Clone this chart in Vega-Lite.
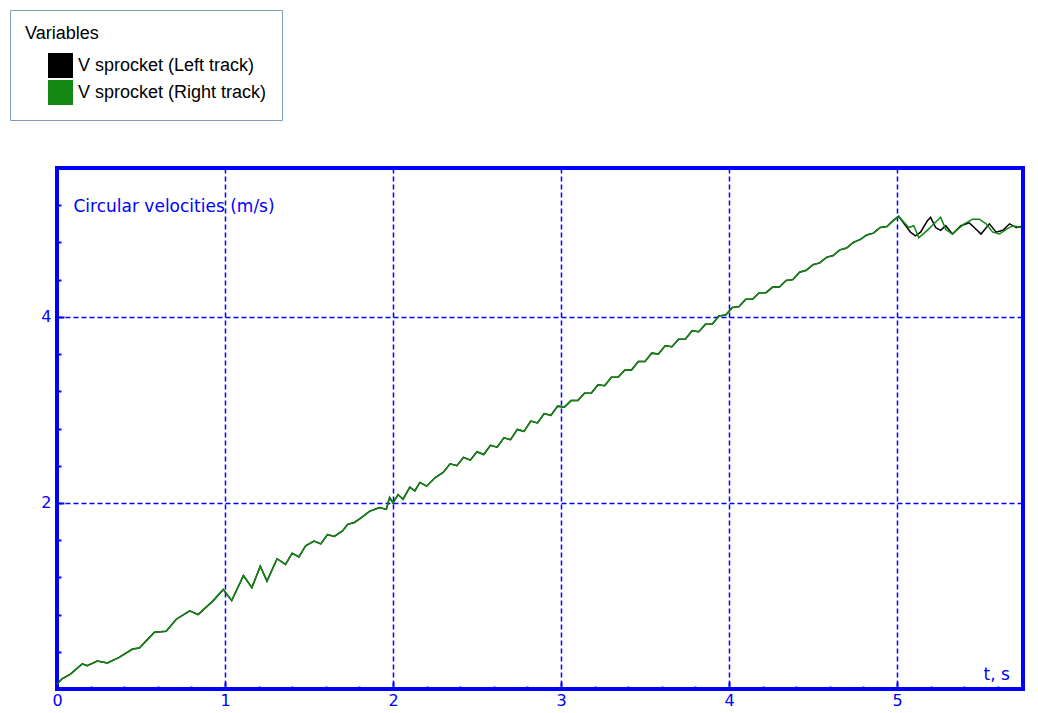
{
 "$schema": "https://vega.github.io/schema/vega-lite/v6.json",
 "width": 966,
 "height": 521,
 "autosize": {"type": "none"},
 "padding": {"left": 57, "top": 168, "right": 15, "bottom": 24},
 "background": "#FFFFFF",
 "config": {"view": {"stroke": "#0000FF", "strokeWidth": 4}, "font": "DejaVu Sans"},
 "data": {"values": [
  {"s":"V sprocket (Left track)","t":0,"v":0.05},{"s":"V sprocket (Left track)","t":0.03,"v":0.11},{"s":"V sprocket (Left track)","t":0.08,"v":0.16},{"s":"V sprocket (Left track)","t":0.15,"v":0.27},{"s":"V sprocket (Left track)","t":0.18,"v":0.25},{"s":"V sprocket (Left track)","t":0.24,"v":0.30},{"s":"V sprocket (Left track)","t":0.30,"v":0.28},{"s":"V sprocket (Left track)","t":0.37,"v":0.34},{"s":"V sprocket (Left track)","t":0.45,"v":0.43},{"s":"V sprocket (Left track)","t":0.49,"v":0.44},{"s":"V sprocket (Left track)","t":0.58,"v":0.61},{"s":"V sprocket (Left track)","t":0.65,"v":0.62},{"s":"V sprocket (Left track)","t":0.71,"v":0.75},{"s":"V sprocket (Left track)","t":0.79,"v":0.84},{"s":"V sprocket (Left track)","t":0.84,"v":0.80},{"s":"V sprocket (Left track)","t":0.93,"v":0.95},{"s":"V sprocket (Left track)","t":0.99,"v":1.07},{"s":"V sprocket (Left track)","t":1.04,"v":0.95},{"s":"V sprocket (Left track)","t":1.11,"v":1.22},{"s":"V sprocket (Left track)","t":1.16,"v":1.09},{"s":"V sprocket (Left track)","t":1.21,"v":1.32},{"s":"V sprocket (Left track)","t":1.25,"v":1.16},{"s":"V sprocket (Left track)","t":1.31,"v":1.40},{"s":"V sprocket (Left track)","t":1.36,"v":1.34},{"s":"V sprocket (Left track)","t":1.40,"v":1.46},{"s":"V sprocket (Left track)","t":1.44,"v":1.42},{"s":"V sprocket (Left track)","t":1.48,"v":1.54},{"s":"V sprocket (Left track)","t":1.53,"v":1.59},{"s":"V sprocket (Left track)","t":1.57,"v":1.56},{"s":"V sprocket (Left track)","t":1.61,"v":1.66},{"s":"V sprocket (Left track)","t":1.65,"v":1.64},{"s":"V sprocket (Left track)","t":1.70,"v":1.70},{"s":"V sprocket (Left track)","t":1.73,"v":1.77},{"s":"V sprocket (Left track)","t":1.77,"v":1.79},{"s":"V sprocket (Left track)","t":1.81,"v":1.84},{"s":"V sprocket (Left track)","t":1.86,"v":1.91},{"s":"V sprocket (Left track)","t":1.92,"v":1.95},{"s":"V sprocket (Left track)","t":1.96,"v":1.93},{"s":"V sprocket (Left track)","t":1.98,"v":2.06},{"s":"V sprocket (Left track)","t":2.00,"v":2.00},{"s":"V sprocket (Left track)","t":2.03,"v":2.09},{"s":"V sprocket (Left track)","t":2.06,"v":2.04},{"s":"V sprocket (Left track)","t":2.10,"v":2.17},{"s":"V sprocket (Left track)","t":2.13,"v":2.13},{"s":"V sprocket (Left track)","t":2.16,"v":2.22},{"s":"V sprocket (Left track)","t":2.20,"v":2.18},{"s":"V sprocket (Left track)","t":2.25,"v":2.27},{"s":"V sprocket (Left track)","t":2.30,"v":2.33},{"s":"V sprocket (Left track)","t":2.34,"v":2.42},{"s":"V sprocket (Left track)","t":2.38,"v":2.40},{"s":"V sprocket (Left track)","t":2.42,"v":2.49},{"s":"V sprocket (Left track)","t":2.46,"v":2.46},{"s":"V sprocket (Left track)","t":2.50,"v":2.55},{"s":"V sprocket (Left track)","t":2.54,"v":2.52},{"s":"V sprocket (Left track)","t":2.58,"v":2.62},{"s":"V sprocket (Left track)","t":2.62,"v":2.60},{"s":"V sprocket (Left track)","t":2.66,"v":2.70},{"s":"V sprocket (Left track)","t":2.70,"v":2.68},{"s":"V sprocket (Left track)","t":2.74,"v":2.79},{"s":"V sprocket (Left track)","t":2.78,"v":2.77},{"s":"V sprocket (Left track)","t":2.82,"v":2.88},{"s":"V sprocket (Left track)","t":2.86,"v":2.86},{"s":"V sprocket (Left track)","t":2.90,"v":2.96},{"s":"V sprocket (Left track)","t":2.94,"v":2.94},{"s":"V sprocket (Left track)","t":2.98,"v":3.04},{"s":"V sprocket (Left track)","t":3.02,"v":3.03},{"s":"V sprocket (Left track)","t":3.06,"v":3.10},{"s":"V sprocket (Left track)","t":3.10,"v":3.10},{"s":"V sprocket (Left track)","t":3.14,"v":3.18},{"s":"V sprocket (Left track)","t":3.18,"v":3.18},{"s":"V sprocket (Left track)","t":3.22,"v":3.27},{"s":"V sprocket (Left track)","t":3.26,"v":3.26},{"s":"V sprocket (Left track)","t":3.30,"v":3.35},{"s":"V sprocket (Left track)","t":3.34,"v":3.35},{"s":"V sprocket (Left track)","t":3.38,"v":3.43},{"s":"V sprocket (Left track)","t":3.42,"v":3.43},{"s":"V sprocket (Left track)","t":3.46,"v":3.52},{"s":"V sprocket (Left track)","t":3.50,"v":3.52},{"s":"V sprocket (Left track)","t":3.54,"v":3.61},{"s":"V sprocket (Left track)","t":3.58,"v":3.60},{"s":"V sprocket (Left track)","t":3.62,"v":3.69},{"s":"V sprocket (Left track)","t":3.66,"v":3.68},{"s":"V sprocket (Left track)","t":3.70,"v":3.76},{"s":"V sprocket (Left track)","t":3.74,"v":3.76},{"s":"V sprocket (Left track)","t":3.78,"v":3.85},{"s":"V sprocket (Left track)","t":3.82,"v":3.84},{"s":"V sprocket (Left track)","t":3.86,"v":3.92},{"s":"V sprocket (Left track)","t":3.90,"v":3.92},{"s":"V sprocket (Left track)","t":3.94,"v":4.01},{"s":"V sprocket (Left track)","t":3.98,"v":4.02},{"s":"V sprocket (Left track)","t":4.02,"v":4.10},{"s":"V sprocket (Left track)","t":4.06,"v":4.11},{"s":"V sprocket (Left track)","t":4.10,"v":4.19},{"s":"V sprocket (Left track)","t":4.14,"v":4.19},{"s":"V sprocket (Left track)","t":4.18,"v":4.26},{"s":"V sprocket (Left track)","t":4.22,"v":4.26},{"s":"V sprocket (Left track)","t":4.26,"v":4.32},{"s":"V sprocket (Left track)","t":4.30,"v":4.32},{"s":"V sprocket (Left track)","t":4.34,"v":4.39},{"s":"V sprocket (Left track)","t":4.38,"v":4.40},{"s":"V sprocket (Left track)","t":4.42,"v":4.48},{"s":"V sprocket (Left track)","t":4.46,"v":4.50},{"s":"V sprocket (Left track)","t":4.50,"v":4.56},{"s":"V sprocket (Left track)","t":4.54,"v":4.58},{"s":"V sprocket (Left track)","t":4.58,"v":4.64},{"s":"V sprocket (Left track)","t":4.62,"v":4.66},{"s":"V sprocket (Left track)","t":4.66,"v":4.72},{"s":"V sprocket (Left track)","t":4.70,"v":4.74},{"s":"V sprocket (Left track)","t":4.74,"v":4.80},{"s":"V sprocket (Left track)","t":4.78,"v":4.83},{"s":"V sprocket (Left track)","t":4.82,"v":4.88},{"s":"V sprocket (Left track)","t":4.86,"v":4.90},{"s":"V sprocket (Left track)","t":4.90,"v":4.96},{"s":"V sprocket (Left track)","t":4.94,"v":4.97},{"s":"V sprocket (Left track)","t":4.98,"v":5.04},{"s":"V sprocket (Left track)","t":5.01,"v":5.08},
  {"s":"V sprocket (Left track)","t":5.08,"v":4.91},{"s":"V sprocket (Left track)","t":5.11,"v":4.87},{"s":"V sprocket (Left track)","t":5.14,"v":4.91},{"s":"V sprocket (Left track)","t":5.18,"v":5.03},{"s":"V sprocket (Left track)","t":5.20,"v":5.07},{"s":"V sprocket (Left track)","t":5.23,"v":4.96},{"s":"V sprocket (Left track)","t":5.26,"v":4.93},{"s":"V sprocket (Left track)","t":5.29,"v":4.98},{"s":"V sprocket (Left track)","t":5.33,"v":4.89},{"s":"V sprocket (Left track)","t":5.38,"v":4.98},{"s":"V sprocket (Left track)","t":5.43,"v":5.01},{"s":"V sprocket (Left track)","t":5.46,"v":4.96},{"s":"V sprocket (Left track)","t":5.50,"v":4.89},{"s":"V sprocket (Left track)","t":5.55,"v":5.00},{"s":"V sprocket (Left track)","t":5.59,"v":4.91},{"s":"V sprocket (Left track)","t":5.63,"v":4.93},{"s":"V sprocket (Left track)","t":5.67,"v":5.00},{"s":"V sprocket (Left track)","t":5.71,"v":4.96},{"s":"V sprocket (Left track)","t":5.74,"v":4.97},
  {"s":"V sprocket (Right track)","t":0,"v":0.05},{"s":"V sprocket (Right track)","t":0.03,"v":0.11},{"s":"V sprocket (Right track)","t":0.08,"v":0.16},{"s":"V sprocket (Right track)","t":0.15,"v":0.27},{"s":"V sprocket (Right track)","t":0.18,"v":0.25},{"s":"V sprocket (Right track)","t":0.24,"v":0.30},{"s":"V sprocket (Right track)","t":0.30,"v":0.28},{"s":"V sprocket (Right track)","t":0.37,"v":0.34},{"s":"V sprocket (Right track)","t":0.45,"v":0.43},{"s":"V sprocket (Right track)","t":0.49,"v":0.44},{"s":"V sprocket (Right track)","t":0.58,"v":0.61},{"s":"V sprocket (Right track)","t":0.65,"v":0.62},{"s":"V sprocket (Right track)","t":0.71,"v":0.75},{"s":"V sprocket (Right track)","t":0.79,"v":0.84},{"s":"V sprocket (Right track)","t":0.84,"v":0.80},{"s":"V sprocket (Right track)","t":0.93,"v":0.95},{"s":"V sprocket (Right track)","t":0.99,"v":1.07},{"s":"V sprocket (Right track)","t":1.04,"v":0.95},{"s":"V sprocket (Right track)","t":1.11,"v":1.22},{"s":"V sprocket (Right track)","t":1.16,"v":1.09},{"s":"V sprocket (Right track)","t":1.21,"v":1.32},{"s":"V sprocket (Right track)","t":1.25,"v":1.16},{"s":"V sprocket (Right track)","t":1.31,"v":1.40},{"s":"V sprocket (Right track)","t":1.36,"v":1.34},{"s":"V sprocket (Right track)","t":1.40,"v":1.46},{"s":"V sprocket (Right track)","t":1.44,"v":1.42},{"s":"V sprocket (Right track)","t":1.48,"v":1.54},{"s":"V sprocket (Right track)","t":1.53,"v":1.59},{"s":"V sprocket (Right track)","t":1.57,"v":1.56},{"s":"V sprocket (Right track)","t":1.61,"v":1.66},{"s":"V sprocket (Right track)","t":1.65,"v":1.64},{"s":"V sprocket (Right track)","t":1.70,"v":1.70},{"s":"V sprocket (Right track)","t":1.73,"v":1.77},{"s":"V sprocket (Right track)","t":1.77,"v":1.79},{"s":"V sprocket (Right track)","t":1.81,"v":1.84},{"s":"V sprocket (Right track)","t":1.86,"v":1.91},{"s":"V sprocket (Right track)","t":1.92,"v":1.95},{"s":"V sprocket (Right track)","t":1.96,"v":1.93},{"s":"V sprocket (Right track)","t":1.98,"v":2.06},{"s":"V sprocket (Right track)","t":2.00,"v":2.00},{"s":"V sprocket (Right track)","t":2.03,"v":2.09},{"s":"V sprocket (Right track)","t":2.06,"v":2.04},{"s":"V sprocket (Right track)","t":2.10,"v":2.17},{"s":"V sprocket (Right track)","t":2.13,"v":2.13},{"s":"V sprocket (Right track)","t":2.16,"v":2.22},{"s":"V sprocket (Right track)","t":2.20,"v":2.18},{"s":"V sprocket (Right track)","t":2.25,"v":2.27},{"s":"V sprocket (Right track)","t":2.30,"v":2.33},{"s":"V sprocket (Right track)","t":2.34,"v":2.42},{"s":"V sprocket (Right track)","t":2.38,"v":2.40},{"s":"V sprocket (Right track)","t":2.42,"v":2.49},{"s":"V sprocket (Right track)","t":2.46,"v":2.46},{"s":"V sprocket (Right track)","t":2.50,"v":2.55},{"s":"V sprocket (Right track)","t":2.54,"v":2.52},{"s":"V sprocket (Right track)","t":2.58,"v":2.62},{"s":"V sprocket (Right track)","t":2.62,"v":2.60},{"s":"V sprocket (Right track)","t":2.66,"v":2.70},{"s":"V sprocket (Right track)","t":2.70,"v":2.68},{"s":"V sprocket (Right track)","t":2.74,"v":2.79},{"s":"V sprocket (Right track)","t":2.78,"v":2.77},{"s":"V sprocket (Right track)","t":2.82,"v":2.88},{"s":"V sprocket (Right track)","t":2.86,"v":2.86},{"s":"V sprocket (Right track)","t":2.90,"v":2.96},{"s":"V sprocket (Right track)","t":2.94,"v":2.94},{"s":"V sprocket (Right track)","t":2.98,"v":3.04},{"s":"V sprocket (Right track)","t":3.02,"v":3.03},{"s":"V sprocket (Right track)","t":3.06,"v":3.10},{"s":"V sprocket (Right track)","t":3.10,"v":3.10},{"s":"V sprocket (Right track)","t":3.14,"v":3.18},{"s":"V sprocket (Right track)","t":3.18,"v":3.18},{"s":"V sprocket (Right track)","t":3.22,"v":3.27},{"s":"V sprocket (Right track)","t":3.26,"v":3.26},{"s":"V sprocket (Right track)","t":3.30,"v":3.35},{"s":"V sprocket (Right track)","t":3.34,"v":3.35},{"s":"V sprocket (Right track)","t":3.38,"v":3.43},{"s":"V sprocket (Right track)","t":3.42,"v":3.43},{"s":"V sprocket (Right track)","t":3.46,"v":3.52},{"s":"V sprocket (Right track)","t":3.50,"v":3.52},{"s":"V sprocket (Right track)","t":3.54,"v":3.61},{"s":"V sprocket (Right track)","t":3.58,"v":3.60},{"s":"V sprocket (Right track)","t":3.62,"v":3.69},{"s":"V sprocket (Right track)","t":3.66,"v":3.68},{"s":"V sprocket (Right track)","t":3.70,"v":3.76},{"s":"V sprocket (Right track)","t":3.74,"v":3.76},{"s":"V sprocket (Right track)","t":3.78,"v":3.85},{"s":"V sprocket (Right track)","t":3.82,"v":3.84},{"s":"V sprocket (Right track)","t":3.86,"v":3.92},{"s":"V sprocket (Right track)","t":3.90,"v":3.92},{"s":"V sprocket (Right track)","t":3.94,"v":4.01},{"s":"V sprocket (Right track)","t":3.98,"v":4.02},{"s":"V sprocket (Right track)","t":4.02,"v":4.10},{"s":"V sprocket (Right track)","t":4.06,"v":4.11},{"s":"V sprocket (Right track)","t":4.10,"v":4.19},{"s":"V sprocket (Right track)","t":4.14,"v":4.19},{"s":"V sprocket (Right track)","t":4.18,"v":4.26},{"s":"V sprocket (Right track)","t":4.22,"v":4.26},{"s":"V sprocket (Right track)","t":4.26,"v":4.32},{"s":"V sprocket (Right track)","t":4.30,"v":4.32},{"s":"V sprocket (Right track)","t":4.34,"v":4.39},{"s":"V sprocket (Right track)","t":4.38,"v":4.40},{"s":"V sprocket (Right track)","t":4.42,"v":4.48},{"s":"V sprocket (Right track)","t":4.46,"v":4.50},{"s":"V sprocket (Right track)","t":4.50,"v":4.56},{"s":"V sprocket (Right track)","t":4.54,"v":4.58},{"s":"V sprocket (Right track)","t":4.58,"v":4.64},{"s":"V sprocket (Right track)","t":4.62,"v":4.66},{"s":"V sprocket (Right track)","t":4.66,"v":4.72},{"s":"V sprocket (Right track)","t":4.70,"v":4.74},{"s":"V sprocket (Right track)","t":4.74,"v":4.80},{"s":"V sprocket (Right track)","t":4.78,"v":4.83},{"s":"V sprocket (Right track)","t":4.82,"v":4.88},{"s":"V sprocket (Right track)","t":4.86,"v":4.90},{"s":"V sprocket (Right track)","t":4.90,"v":4.96},{"s":"V sprocket (Right track)","t":4.94,"v":4.97},{"s":"V sprocket (Right track)","t":4.98,"v":5.04},{"s":"V sprocket (Right track)","t":5.01,"v":5.08},
  {"s":"V sprocket (Right track)","t":5.07,"v":4.96},{"s":"V sprocket (Right track)","t":5.10,"v":4.98},{"s":"V sprocket (Right track)","t":5.13,"v":4.85},{"s":"V sprocket (Right track)","t":5.18,"v":4.93},{"s":"V sprocket (Right track)","t":5.22,"v":5.00},{"s":"V sprocket (Right track)","t":5.26,"v":5.07},{"s":"V sprocket (Right track)","t":5.29,"v":4.94},{"s":"V sprocket (Right track)","t":5.33,"v":4.89},{"s":"V sprocket (Right track)","t":5.36,"v":4.94},{"s":"V sprocket (Right track)","t":5.40,"v":5.00},{"s":"V sprocket (Right track)","t":5.45,"v":5.05},{"s":"V sprocket (Right track)","t":5.49,"v":5.05},{"s":"V sprocket (Right track)","t":5.53,"v":5.00},{"s":"V sprocket (Right track)","t":5.57,"v":4.91},{"s":"V sprocket (Right track)","t":5.61,"v":4.89},{"s":"V sprocket (Right track)","t":5.65,"v":4.94},{"s":"V sprocket (Right track)","t":5.69,"v":4.98},{"s":"V sprocket (Right track)","t":5.74,"v":4.96}
 ]},
 "mark": {"type": "line", "strokeWidth": 1.5},
 "encoding": {
  "x": {
   "field": "t", "type": "quantitative",
   "scale": {"domain": [0, 5.75], "nice": false, "zero": false},
   "axis": {
    "title": "t, s", "titleX": 926, "titleY": -15, "titleAlign": "left", "titleBaseline": "middle",
    "titleFont": "DejaVu Sans", "titleFontSize": 17, "titleFontWeight": "normal", "titleColor": "#0000FF",
    "values": [0,0.2,0.4,0.6,0.8,1,1.2,1.4,1.6,1.8,2,2.2,2.4,2.6,2.8,3,3.2,3.4,3.6,3.8,4,4.2,4.4,4.6,4.8,5,5.2,5.4,5.6],
    "labelExpr": "datum.value % 1 === 0 ? format(datum.value, 'd') : ''",
    "labelColor": "#0000FF", "labelFont": "DejaVu Sans", "labelFontSize": 16, "labelPadding": 10, "labelFlush": false,
    "domain": false,
    "tickColor": "#0000FF", "tickWidth": 2,
    "tickSize": {"condition": {"test": "datum.value % 1 === 0", "value": -7}, "value": -3},
    "grid": true, "gridColor": "#0000FF", "gridDash": [5, 3], "gridWidth": 1.5,
    "gridOpacity": {"condition": {"test": "datum.value % 1 === 0 && datum.value > 0", "value": 1}, "value": 0}
   }
  },
  "y": {
   "field": "v", "type": "quantitative",
   "scale": {"domain": [0, 5.6], "nice": false, "zero": false},
   "axis": {
    "title": "Circular velocities (m/s)", "titleAngle": 0, "titleX": 16, "titleY": 38, "titleAlign": "left", "titleBaseline": "middle",
    "titleFont": "DejaVu Sans", "titleFontSize": 17, "titleFontWeight": "normal", "titleColor": "#0000FF",
    "values": [0,0.4,0.8,1.2,1.6,2,2.4,2.8,3.2,3.6,4,4.4,4.8,5.2],
    "labelExpr": "datum.value === 2 || datum.value === 4 ? format(datum.value, 'd') : ''",
    "labelColor": "#0000FF", "labelFont": "DejaVu Sans", "labelFontSize": 16, "labelPadding": 13, "labelFlush": false,
    "domain": false,
    "tickColor": "#0000FF", "tickWidth": 2,
    "tickSize": {"condition": {"test": "datum.value === 2 || datum.value === 4", "value": -7}, "value": -4},
    "grid": true, "gridColor": "#0000FF", "gridDash": [5, 3], "gridWidth": 1.5,
    "gridOpacity": {"condition": {"test": "datum.value === 2 || datum.value === 4", "value": 1}, "value": 0}
   }
  },
  "color": {
   "field": "s", "type": "nominal",
   "scale": {"domain": ["V sprocket (Left track)", "V sprocket (Right track)"], "range": ["#000000", "#128812"]},
   "legend": {
    "orient": "none", "legendX": -47, "legendY": -158,
    "title": "Variables", "titleFont": "Liberation Sans", "titleFontSize": 18, "titleFontWeight": "normal", "titleColor": "#000000", "titlePadding": 10,
    "labelFont": "Liberation Sans", "labelFontSize": 18, "labelColor": "#000000", "labelOffset": 5, "labelLimit": 400,
    "symbolType": "square", "symbolSize": 625, "symbolStrokeWidth": 0, "symbolOffset": 23,
    "rowPadding": 2, "padding": 15, "fillColor": "#FFFFFF", "strokeColor": "#7F9DB9", "cornerRadius": 0,
    "encode": {
     "symbols": {"update": {"fill": {"scale": "color", "field": "value"}, "fillOpacity": {"value": 1}}}
    }
   }
  }
 }
}
